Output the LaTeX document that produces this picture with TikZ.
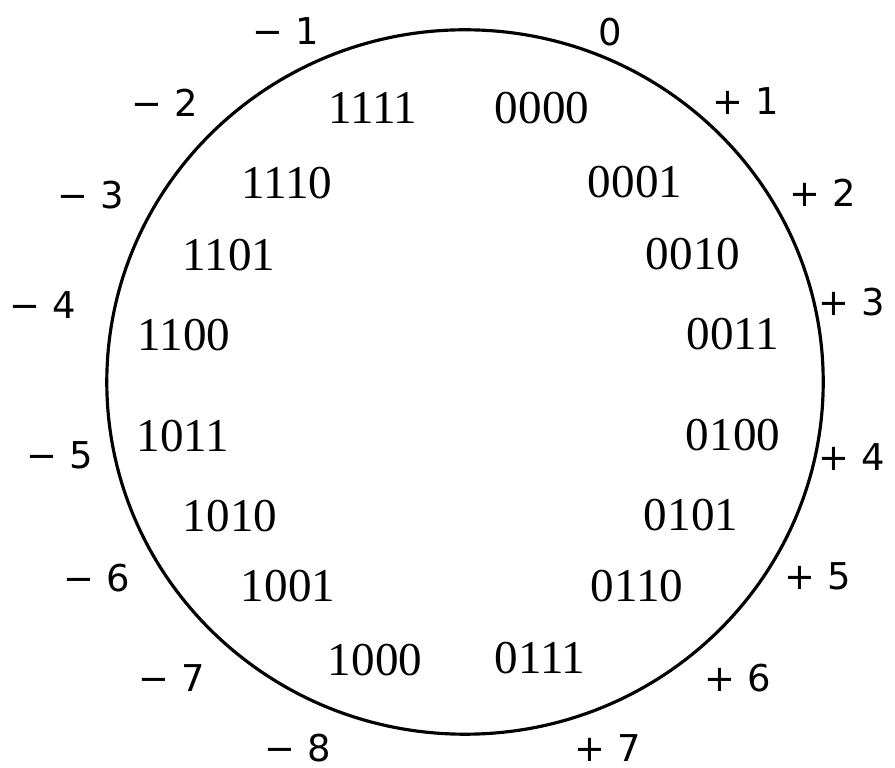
\documentclass[tikz,border=0pt]{standalone}
\usepackage{fontspec}
\usepackage{tikz}
\newfontfamily\bitfont{Liberation Serif}
\newfontfamily\valfont{DejaVu Sans}

\begin{document}
\begin{tikzpicture}[
    x=0.01cm,y=-0.01cm,
    bits/.style={inner sep=0pt,font=\bitfont\fontsize{13.4}{15}\selectfont},
    val/.style={inner sep=0pt,font=\valfont\fontsize{10.5}{12}\selectfont}
  ]
    \useasboundingbox (0,0) rectangle (895,768);
    \draw[line width=0.9pt] (465,382) ellipse [x radius=3.58cm,y radius=3.52cm];
    % codes inside the wheel
    \node[bits] (b0000) at (542,108) {0000};
    \node[bits] (b0001) at (635,182) {0001};
    \node[bits] (b0010) at (693,254) {0010};
    \node[bits] (b0011) at (733,334) {0011};
    \node[bits] (b0100) at (733,435) {0100};
    \node[bits] (b0101) at (691,515) {0101};
    \node[bits] (b0110) at (637,586) {0110};
    \node[bits] (b0111) at (540,658) {0111};
    \node[bits] (b1000) at (375,660) {1000};
    \node[bits] (b1001) at (288,586) {1001};
    \node[bits] (b1010) at (230,516) {1010};
    \node[bits] (b1011) at (183,436) {1011};
    \node[bits] (b1100) at (184,335) {1100};
    \node[bits] (b1101) at (229,255) {1101};
    \node[bits] (b1110) at (287,183) {1110};
    \node[bits] (b1111) at (373,108) {1111};
    % values outside the wheel
    \node[val] (v0) at (610,32) {0};
    \node[val] (vp1) at (746,101) {+ 1};
    \node[val] (vp2) at (823,193) {+ 2};
    \node[val] (vp3) at (852,302) {+ 3};
    \node[val] (vp4) at (852,457) {+ 4};
    \node[val] (vp5) at (818,576) {+ 5};
    \node[val] (vp6) at (738,678) {+ 6};
    \node[val] (vp7) at (608,748) {+ 7};
    \node[val] (vm8) at (298,748) {− 8};
    \node[val] (vm7) at (172,678) {− 7};
    \node[val] (vm6) at (97,578) {− 6};
    \node[val] (vm5) at (60,455) {− 5};
    \node[val] (vm4) at (43,305) {− 4};
    \node[val] (vm3) at (91,195) {− 3};
    \node[val] (vm2) at (165,103) {− 2};
    \node[val] (vm1) at (286,31) {− 1};
  \end{tikzpicture}
\end{document}
